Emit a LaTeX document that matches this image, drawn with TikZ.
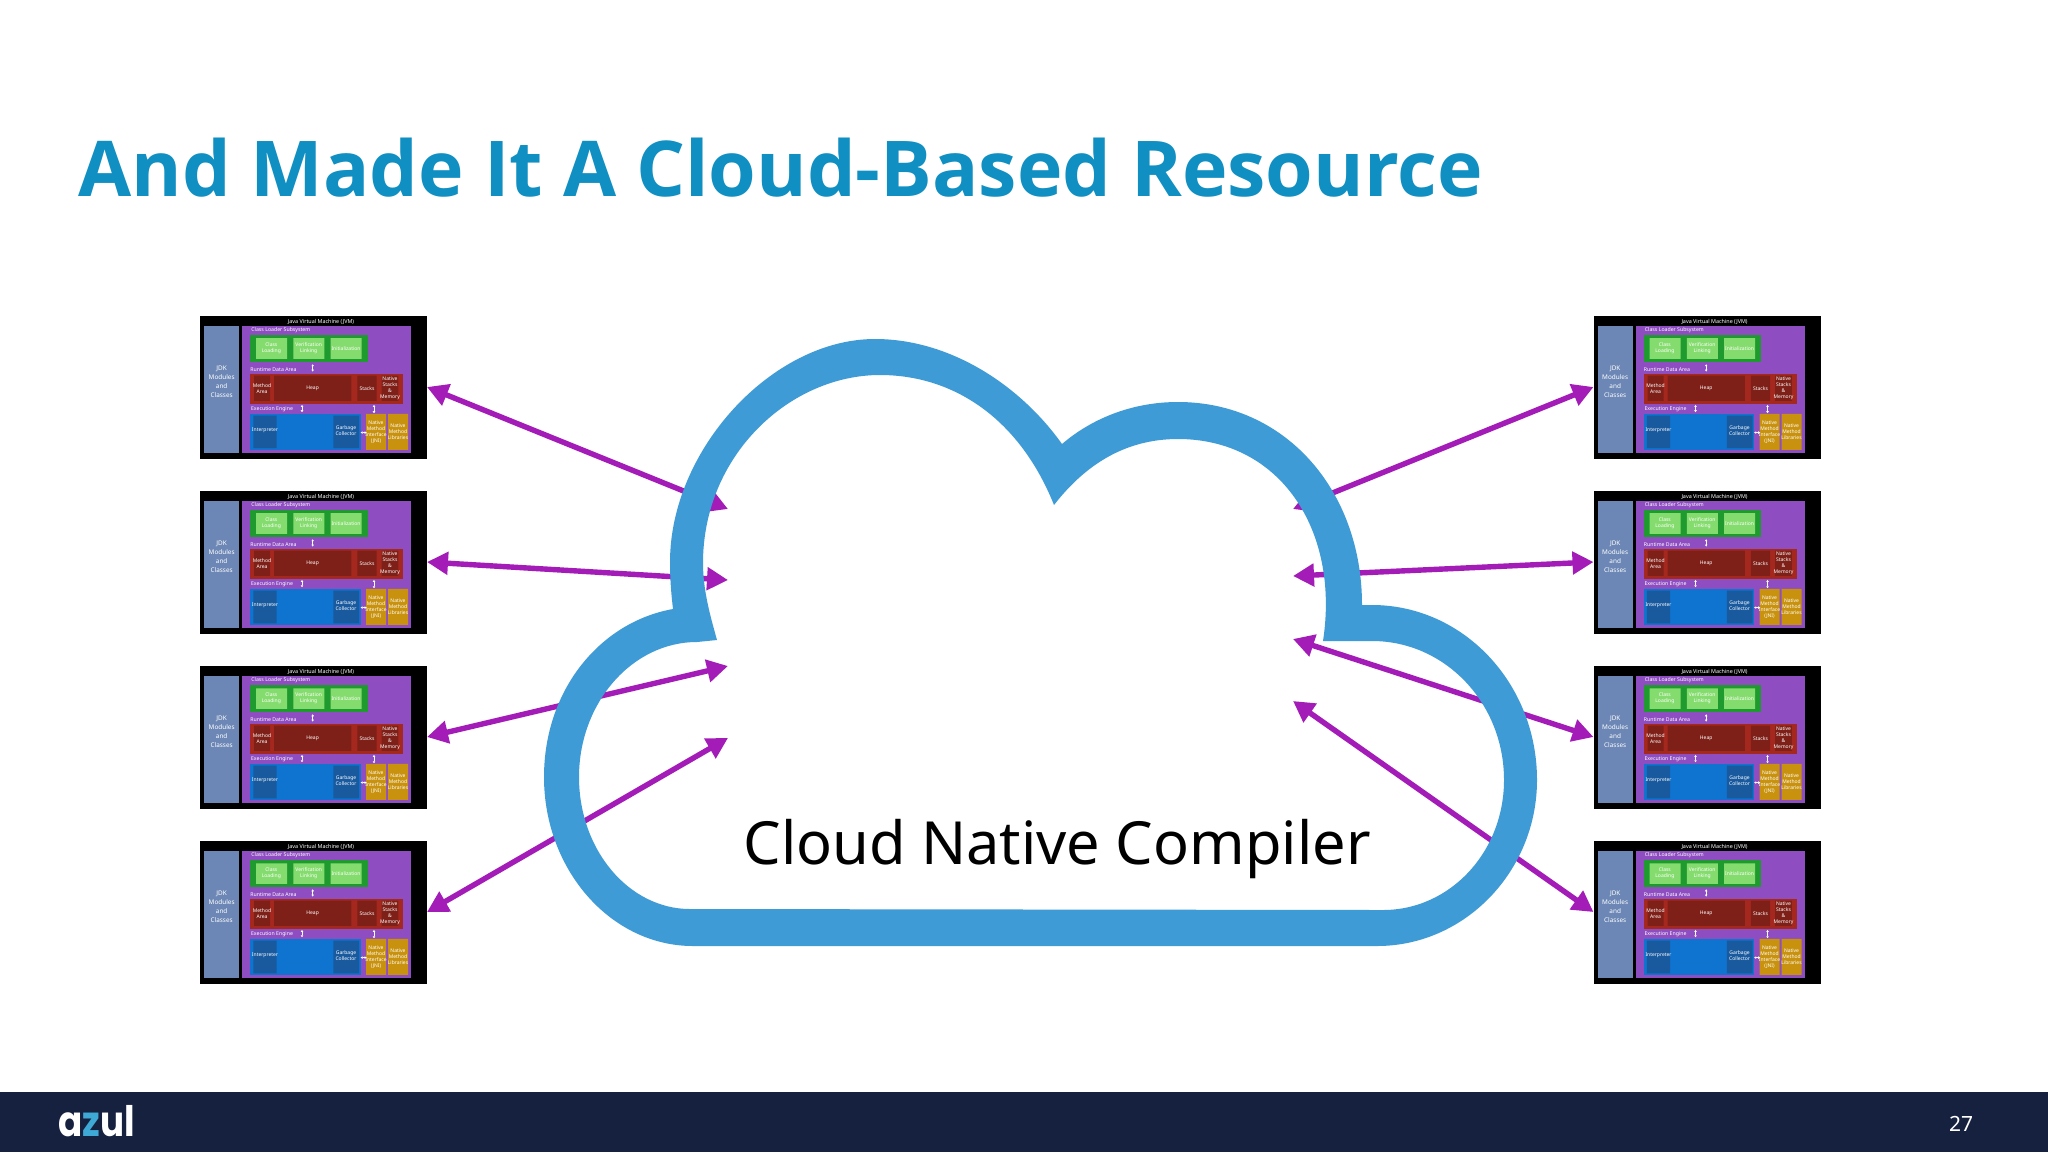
\documentclass[tikz,border=0pt]{standalone}
\usepackage{fontspec}
\usepackage{graphicx}
\setmainfont{Noto Sans}
\newfontfamily\logofont{Poppins}
\newfontfamily\titlefont{Open Sans}
\usetikzlibrary{arrows.meta}
\definecolor{titleblue}{HTML}{0F8FC2}
\definecolor{cloudblue}{HTML}{3F9BD6}
\definecolor{arrowpurple}{HTML}{A31CB8}
\definecolor{footernavy}{HTML}{16213F}
\definecolor{jdkblue}{HTML}{6C87B5}
\definecolor{jvmpurple}{HTML}{8E4DC0}
\definecolor{loadgreen}{HTML}{1F9A2E}
\definecolor{lightgreen}{HTML}{85DC6E}
\definecolor{datared}{HTML}{A5281F}
\definecolor{darkred}{HTML}{7E2018}
\definecolor{execblue}{HTML}{0F74CF}
\definecolor{darkblue}{HTML}{195A9F}
\definecolor{nativeorange}{HTML}{C8920F}
\definecolor{logoblue}{HTML}{3FA9D6}
\tikzset{
  jvmbox/.style={draw=none,fill=black,inner sep=0pt,outer sep=0pt,minimum width=113.5pt,minimum height=71.5pt},
  link/.style={arrowpurple,line width=2.7pt,{Triangle[length=10.5pt,width=11pt]}-{Triangle[length=10.5pt,width=11pt]}},
  tiny/.style={text=white,font=\fontsize{2.5}{3}\selectfont,align=center,inner sep=0pt},
  tinyl/.style={text=white,font=\fontsize{2.6}{3}\bfseries\selectfont,anchor=west,inner sep=0pt},
  smallarrow/.style={white,line width=.35pt,{Triangle[length=1pt,width=1.2pt]}-{Triangle[length=1pt,width=1.2pt]}},
  pics/jvm/.style={code={
    % local coordinates: one unit is 1/3 of a reference pixel
    \begin{scope}[x=.16667pt,y=-.16667pt]
      \fill[jdkblue] (43,63) rectangle (147,445);
      \fill[jvmpurple] (157,63) rectangle (663,445);
      \fill[loadgreen] (180,90) rectangle (533,172);
      \fill[lightgreen] (198,100) rectangle (291,162) (310,100) rectangle (403,162) (422,100) rectangle (515,162);
      \fill[datared] (180,206) rectangle (640,298);
      \fill[darkred] (192,212) rectangle (240,288) (252,212) rectangle (484,288) (502,212) rectangle (560,288) (575,212) rectangle (625,288);
      \fill[execblue] (180,327) rectangle (512,435);
      \fill[darkblue] (190,332) rectangle (260,430) (430,332) rectangle (507,430);
      \fill[nativeorange] (528,327) rectangle (588,435) (594,327) rectangle (654,435);
      \draw[smallarrow] (368,178) -- (368,200);
      \draw[smallarrow] (336,300) -- (336,322);
      \draw[smallarrow] (552,300) -- (552,325);
      \draw[smallarrow] (512,383) -- (530,383);
      \node[tiny,font=\fontsize{2.7}{3}\bfseries\selectfont] at (393,50) {Java Virtual Machine (JVM)};
      \node[tiny,font=\fontsize{3.2}{4.5}\selectfont] at (95,230) {JDK\\Modules\\and\\Classes};
      \node[tinyl] at (183,76) {Class Loader Subsystem};
      \node[tiny] at (244,131) {Class\\Loading};
      \node[tiny] at (356,131) {Verification\\Linking};
      \node[tiny] at (468,131) {Initialization};
      \node[tinyl] at (180,194) {Runtime Data Area};
      \node[tiny] at (216,250) {Method\\Area};
      \node[tiny] at (368,250) {Heap};
      \node[tiny] at (531,250) {Stacks};
      \node[tiny] at (600,250) {Native\\Stacks\\\&\\Memory};
      \node[tinyl] at (182,313) {Execution Engine};
      \node[tiny] at (225,377) {Interpreter};
      \node[tiny] at (468,377) {Garbage\\Collector};
      \node[tiny] at (558,381) {Native\\Method\\Interface\\(JNI)};
      \node[tiny] at (624,381) {Native\\Method\\Libraries};
    \end{scope}
  }}
}
\begin{document}
\begin{tikzpicture}[x=.5pt,y=-.5pt]
\useasboundingbox (0,0) rectangle (2048,1152);
\fill[white] (0,0) rectangle (2048,1152);
\node[anchor=base west,inner sep=0pt,text=titleblue,font=\titlefont\bfseries\fontsize{38.5}{46}\selectfont] (title) at (78,196) {And Made It A Cloud-Based Resource};

% JVM panels
\foreach \n/\y in {1/387,2/562,3/737,4/912}{
  \node[jvmbox] (L\n) at (313.5,\y) {};
  \node[jvmbox] (R\n) at (1707,\y) {};
}
\foreach \n in {1,2,3,4}{
  \pic[xshift=-5pt,yshift=5.3pt] at (L\n.north west) {jvm};
  \pic[xshift=-5pt,yshift=5.3pt] at (R\n.north west) {jvm};
}

% free ends inside the cloud
\coordinate (a1) at (728,509);
\coordinate (a2) at (728,580);
\coordinate (a3) at (728,666);
\coordinate (a4) at (728,738);
\coordinate (b1) at (1293,509);
\coordinate (b2) at (1293,576);
\coordinate (b3) at (1293,639);
\coordinate (b4) at (1293,701);
\foreach \n in {1,2,3,4}{
  \draw[link] (L\n.east) -- (a\n);
  \draw[link] (R\n.west) -- (b\n);
}

% cloud outline band
\fill[cloudblue,even odd rule]
  (1062,444) .. controls (1020,385) and (950,339) .. (875,339)
  .. controls (772,339) and (670,450) .. (670,562)
  .. controls (670,578) and (671,592) .. (673,609)
  .. controls (600,622) and (544,690) .. (544,777)
  .. controls (544,870) and (611,946) .. (693,946)
  -- (1377,946)
  .. controls (1465,946) and (1537,871) .. (1537,780)
  .. controls (1537,683) and (1463,605) .. (1372,605)
  -- (1362,605)
  .. controls (1362,490) and (1285,402) .. (1178,402)
  .. controls (1130,402) and (1090,420) .. (1062,444) -- cycle
  (1054,505) .. controls (1020,420) and (955,375) .. (880,375)
  .. controls (790,375) and (703,455) .. (703,563)
  .. controls (703,590) and (710,615) .. (717,640)
  -- (697,642)
  .. controls (632,642) and (579,703) .. (579,777)
  .. controls (579,850) and (629,909) .. (690,909)
  -- (1383,910)
  .. controls (1450,910) and (1504,852) .. (1504,780)
  .. controls (1504,703) and (1445,641) .. (1372,641)
  -- (1323,641)
  .. controls (1340,530) and (1280,439) .. (1178,439)
  .. controls (1125,439) and (1085,465) .. (1054,505) -- cycle;

\node[anchor=base,inner sep=0pt,font=\fontsize{29.75}{36}\selectfont] (cnc) at (1057,864) {Cloud Native Compiler};

% footer
\fill[footernavy] (0,1092) rectangle (2048,1152);
\node[anchor=base west,inner sep=0pt,text=white,font=\logofont\bfseries\fontsize{21}{25}\selectfont] (logo) at (58,1136) {\scalebox{.85}[1]{a\textcolor{logoblue}{z}ul}};
\node[text=white,inner sep=0pt,font=\fontsize{10.5}{12}\selectfont] (page) at (1961,1124) {27};
\end{tikzpicture}
\end{document}
